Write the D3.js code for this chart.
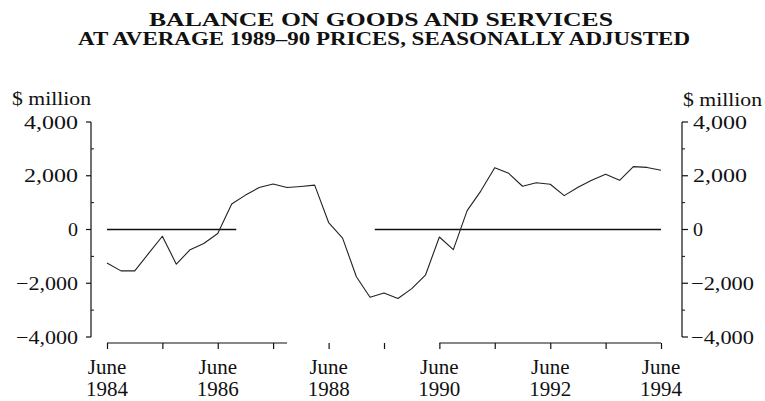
<!DOCTYPE html>
<html>
<head>
<meta charset="utf-8">
<script src="https://cdn.jsdelivr.net/npm/d3@7"></script>
<style>
  html, body { margin: 0; padding: 0; background: #fff; }
  svg { display: block; }
  text { font-family: "Liberation Serif", "DejaVu Serif", serif; fill: #111; }
</style>
</head>
<body>
<svg id="chart" width="765" height="401"></svg>
<script>
// ---- Data ----
const titleLines = ["BALANCE ON GOODS AND SERVICES", "AT AVERAGE 1989\u201390 PRICES, SEASONALLY ADJUSTED"];
const unitLabel = "$ million";

const quarters = [
  "Jun-1984","Sep-1984","Dec-1984","Mar-1985","Jun-1985","Sep-1985","Dec-1985","Mar-1986",
  "Jun-1986","Sep-1986","Dec-1986","Mar-1987","Jun-1987","Sep-1987","Dec-1987","Mar-1988",
  "Jun-1988","Sep-1988","Dec-1988","Mar-1989","Jun-1989","Sep-1989","Dec-1989","Mar-1990",
  "Jun-1990","Sep-1990","Dec-1990","Mar-1991","Jun-1991","Sep-1991","Dec-1991","Mar-1992",
  "Jun-1992","Sep-1992","Dec-1992","Mar-1993","Jun-1993","Sep-1993","Dec-1993","Mar-1994",
  "Jun-1994"
];
const balance = [
  -1250, -1540, -1540, -900, -250, -1290, -750, -520,
  -150, 950, 1280, 1560, 1690, 1560, 1600, 1650,
  260, -320, -1760, -2520, -2360, -2570, -2200, -1700,
  -280, -750, 700, 1430, 2300, 2090, 1610, 1740,
  1685, 1260, 1570, 1830, 2055, 1830, 2340, 2310,
  2205
];
const xTicks = ["Jun-1984","Jun-1985","Jun-1986","Jun-1987","Jun-1988","Jun-1989",
                "Jun-1990","Jun-1991","Jun-1992","Jun-1993","Jun-1994"];
const xTickLabels = {"Jun-1984":["June","1984"],"Jun-1986":["June","1986"],"Jun-1988":["June","1988"],
                     "Jun-1990":["June","1990"],"Jun-1992":["June","1992"],"Jun-1994":["June","1994"]};
const yMajorTicks = [4000, 2000, 0, -2000, -4000];
const yMinorTicks = [3000, 1000, -1000, -3000];
// visible pieces of the zero line and of the time axis in the reference
const zeroSegments = [["Jun-1984","Oct-1986"], ["Apr-1989","Jun-1994"]];
const axisSegments = [["Jun-1984","Sep-1987"], ["Jun-1990","Jun-1994"]];

// ---- Layout ----
const parse = d3.timeParse("%b-%Y");
const svg = d3.select("#chart");
const leftX = 91, rightX = 682, axisY = 343;

const x = d3.scaleTime()
  .domain([parse("Jun-1984"), parse("Jun-1994")])
  .range([107, 661]);
const y = d3.scaleLinear().domain([-4000, 4000]).range([337, 122]);

const fmt = d3.format(",");

// Title
svg.selectAll("text.title").data(titleLines).join("text")
  .attr("class", "title")
  .attr("x", (d, i) => i === 0 ? 381 : 384)
  .attr("y", (d, i) => 26 + i * 19)
  .attr("text-anchor", "middle")
  .attr("font-weight", "bold")
  .attr("font-size", 18)
  .attr("textLength", (d, i) => i === 0 ? 464 : 612)
  .attr("lengthAdjust", "spacingAndGlyphs")
  .text(d => d);

// Unit labels
svg.append("text").attr("x", 12).attr("y", 105).attr("font-size", 19)
  .attr("textLength", 79).attr("lengthAdjust", "spacingAndGlyphs").text(unitLabel);
svg.append("text").attr("x", 683).attr("y", 106).attr("font-size", 19)
  .attr("textLength", 79).attr("lengthAdjust", "spacingAndGlyphs").text(unitLabel);

// Left axis
const gl = svg.append("g").attr("transform", `translate(${leftX},0)`);
gl.append("line").attr("y1", y(4000)).attr("y2", y(-4000)).attr("stroke", "#111").attr("stroke-width", 1.2);
gl.selectAll("line.maj").data(yMajorTicks).join("line").attr("class","maj")
  .attr("x1", -5).attr("x2", 0).attr("y1", d => y(d)).attr("y2", d => y(d))
  .attr("stroke", "#111").attr("stroke-width", 1.2);
gl.selectAll("line.min").data(yMinorTicks).join("line").attr("class","min")
  .attr("x1", 0).attr("x2", 3).attr("y1", d => y(d)).attr("y2", d => y(d))
  .attr("stroke", "#111").attr("stroke-width", 1);
gl.selectAll("text").data(yMajorTicks).join("text")
  .attr("x", -13).attr("y", d => y(d)).attr("dy", "0.35em")
  .attr("text-anchor", "end").attr("font-size", 19)
  .attr("textLength", d => d < 0 ? 62 : (d === 0 ? 10 : 54))
  .attr("lengthAdjust", "spacingAndGlyphs")
  .text(d => fmt(d));

// Right axis
const gr = svg.append("g").attr("transform", `translate(${rightX},0)`);
gr.append("line").attr("y1", y(4000)).attr("y2", y(-4000)).attr("stroke", "#111").attr("stroke-width", 1.2);
gr.selectAll("line.maj").data(yMajorTicks).join("line").attr("class","maj")
  .attr("x1", 0).attr("x2", 6).attr("y1", d => y(d)).attr("y2", d => y(d))
  .attr("stroke", "#111").attr("stroke-width", 1.2);
gr.selectAll("line.min").data(yMinorTicks).join("line").attr("class","min")
  .attr("x1", 0).attr("x2", 3).attr("y1", d => y(d)).attr("y2", d => y(d))
  .attr("stroke", "#111").attr("stroke-width", 1);
gr.selectAll("text").data(yMajorTicks).join("text")
  .attr("x", d => d < 0 ? 9 : 11).attr("y", d => y(d)).attr("dy", "0.35em")
  .attr("text-anchor", "start").attr("font-size", 19)
  .attr("textLength", d => d < 0 ? 63 : (d === 0 ? 10 : 54))
  .attr("lengthAdjust", "spacingAndGlyphs")
  .text(d => fmt(d));

// Bottom axis (ticks via d3 axis, baseline drawn as visible pieces)
const gx = svg.append("g").attr("transform", `translate(0,${axisY})`);
const xAxis = d3.axisBottom(x).tickValues(xTicks.map(parse)).tickSize(6).tickFormat("");
gx.call(xAxis);
gx.select(".domain").remove();
gx.selectAll(".tick line").attr("stroke", "#111").attr("stroke-width", 1.2);
gx.selectAll("line.base").data(axisSegments).join("line").attr("class","base")
  .attr("x1", d => x(parse(d[0]))).attr("x2", d => x(parse(d[1])))
  .attr("stroke", "#111").attr("stroke-width", 1.2);

const labelTicks = xTicks.filter(t => xTickLabels[t]);
const lab = svg.selectAll("g.xl").data(labelTicks).join("g").attr("class","xl")
  .attr("transform", d => `translate(${x(parse(d))},0)`);
lab.append("text").attr("y", 374).attr("text-anchor", "middle").attr("font-size", 21)
  .text(d => xTickLabels[d][0]);
lab.append("text").attr("y", 396).attr("text-anchor", "middle").attr("font-size", 21)
  .text(d => xTickLabels[d][1]);

// Zero line pieces
svg.selectAll("line.zero").data(zeroSegments).join("line").attr("class","zero")
  .attr("x1", d => x(parse(d[0]))).attr("x2", d => x(parse(d[1])))
  .attr("y1", y(0)).attr("y2", y(0))
  .attr("stroke", "#111").attr("stroke-width", 1.3);

// Series line
const pts = quarters.map((q, i) => ({date: parse(q), value: balance[i]}));
svg.append("path").datum(pts)
  .attr("fill", "none").attr("stroke", "#222").attr("stroke-width", 1.1)
  .attr("stroke-linejoin", "round")
  .attr("d", d3.line().x(d => x(d.date)).y(d => y(d.value)));
</script>
</body>
</html>
